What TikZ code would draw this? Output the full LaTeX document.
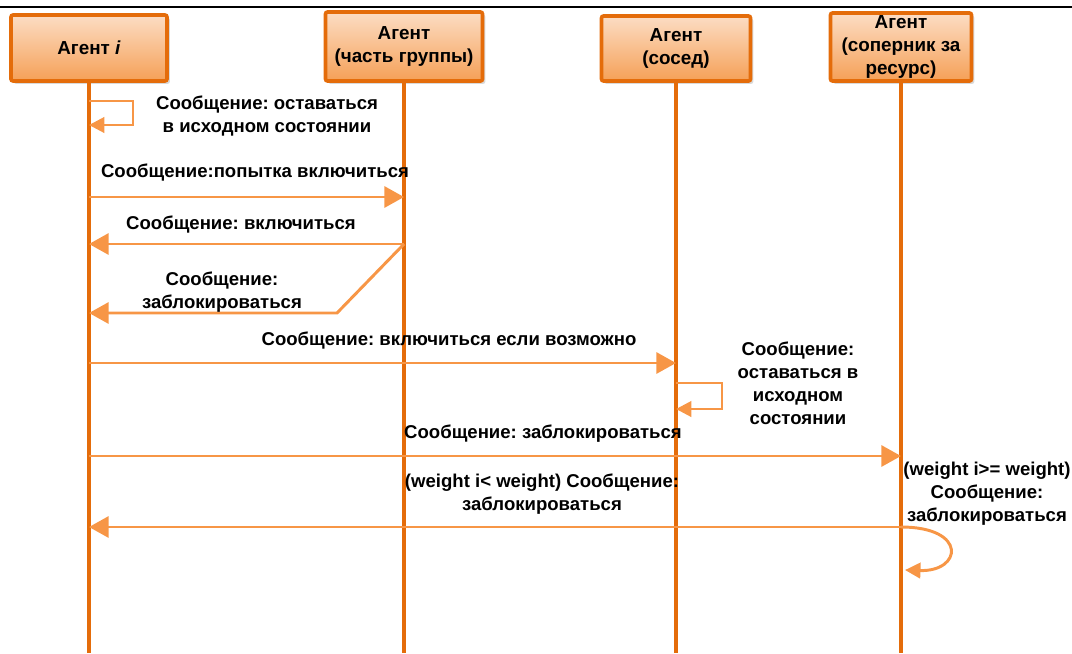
\documentclass[tikz,border=0pt]{standalone}
\usepackage{fontspec}
\setmainfont{Liberation Sans}
\usetikzlibrary{
    arrows.meta,
    shadows
}
\definecolor{lifeorange}{HTML}{E46C0A}
\definecolor{msgorange}{HTML}{F79646}
\definecolor{boxtop}{HTML}{FCDDC4}
\definecolor{boxbottom}{HTML}{F5A057}
\tikzset{
    agent/.style={draw=lifeorange, line width=2.6pt, rounded corners=1.5pt,
        top color=boxtop, bottom color=boxbottom,
        drop shadow={opacity=0.3, shadow xshift=2pt, shadow yshift=-2pt},
        font=\bfseries\fontsize{13.4}{16.4}\selectfont, align=center, inner sep=0pt},
    lifeline/.style={draw=lifeorange, line width=2.5pt},
    msg/.style={draw=msgorange, line width=2.1pt, -{Triangle[width=15pt,length=14pt]}},
    selfmsg/.style={msg, -{Triangle[width=11pt,length=11pt]}},
    msgtext/.style={font=\bfseries\fontsize{13.2}{16.3}\selectfont, align=center, inner sep=0pt}
}

\begin{document}
\begin{tikzpicture}[x=0.025cm, y=-0.025cm]
        \useasboundingbox (0,0) rectangle (1072,653);
        \draw[line width=1.4pt] (0,7) -- (1072,7);

        % agents
        \node[agent, minimum width=3.9cm,   minimum height=1.65cm]  (A) at (89,48)   {Агент \textit{i}};
        \node[agent, minimum width=3.925cm, minimum height=1.725cm] (B) at (404,46.5) {Агент\\(часть группы)};
        \node[agent, minimum width=3.725cm, minimum height=1.625cm] (C) at (676,48.5) {Агент\\(сосед)};
        \node[agent, minimum width=3.525cm, minimum height=1.7cm]   (D) at (901,47)   {Агент\\(соперник за\\ресурс)};

        % lifelines
        \draw[lifeline] (A.south) -- (A |- 0,653);
        \draw[lifeline] (B.south) -- (B |- 0,653);
        \draw[lifeline] (C.south) -- (C |- 0,653);
        \draw[lifeline] (D.south) -- (D |- 0,653);

        % messages
        \draw[selfmsg] (A |- 0,101) -| (133,125) -- (A |- 0,125);
        \node[msgtext] (t1) at (267,116) {Сообщение:~оставаться\\в исходном состоянии};

        \draw[msg] (A |- 0,197) -- (B |- 0,197);
        \node[msgtext] (t2) at (255,173) {Сообщение:попытка включиться};

        \draw[msg] (B |- 0,244) -- (A |- 0,244);
        \node[msgtext] (t3) at (241,225) {Сообщение:~включиться};

        \draw[msg] (B |- 0,244) -- (337,313) -- (A |- 0,313);
        \node[msgtext] (t4) at (222,292.5) {Сообщение:\\заблокироваться};

        \draw[msg] (A |- 0,363) -- (C |- 0,363);
        \node[msgtext] (t5) at (449,341) {Сообщение:~включиться если возможно};

        \draw[selfmsg] (C |- 0,383) -| (722,409) -- (C |- 0,409);
        \node[msgtext] (t6) at (798,383) {Сообщение:\\оставаться в\\исходном\\состоянии};

        \draw[msg] (A |- 0,456) -- (D |- 0,456);
        \node[msgtext] (t7) at (543,434) {Сообщение:~заблокироваться};

        \draw[msg] (D |- 0,527) -- (A |- 0,527);
        \node[msgtext] (t8) at (542,494.5) {(weight i< weight) Сообщение:\\заблокироваться};

        \draw[selfmsg] (D |- 0,527) .. controls (968,527) and (962,572) .. (905,570);
        \node[msgtext] (t9) at (987,493.5) {(weight i>= weight)\\Сообщение:\\заблокироваться};
    \end{tikzpicture}
\end{document}
